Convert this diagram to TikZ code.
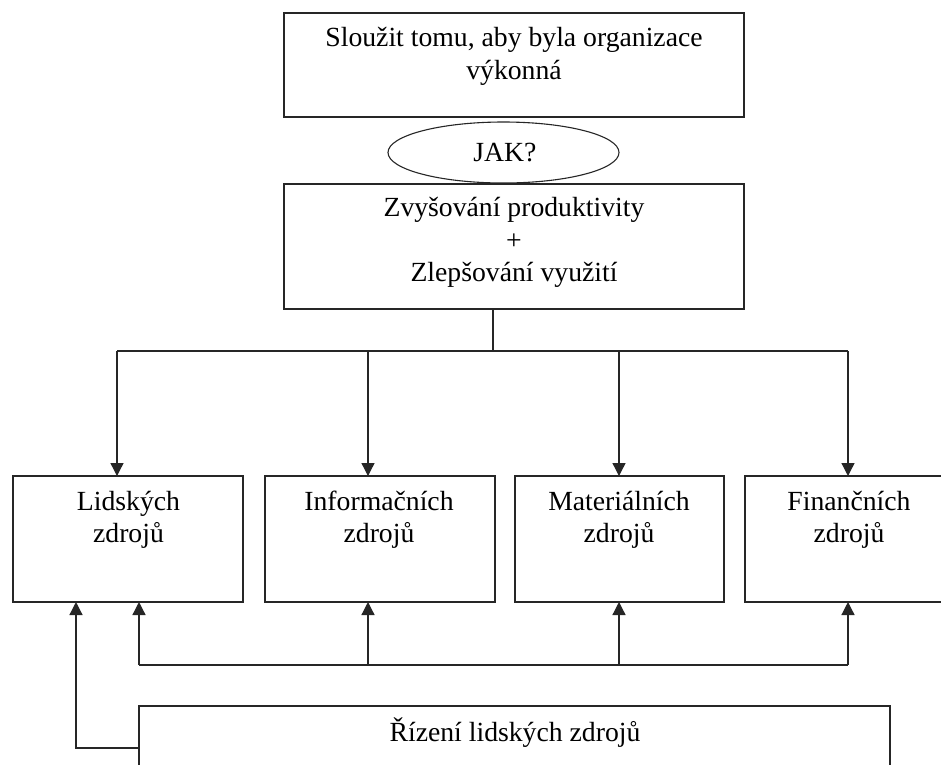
\documentclass[tikz,border=0pt]{standalone}
\usepackage{fontspec}
\setmainfont{Liberation Serif}
\usetikzlibrary{arrows.meta,shapes.geometric}
\tikzset{
  ln/.style={draw=black!85, line width=1.3pt},
  box/.style={ln, rectangle, inner sep=0pt, outer sep=0pt},
  txt/.style={inner sep=0pt, outer sep=0pt, align=center, anchor=north, font=\fontsize{27.7}{32.5}\selectfont},
  arr/.style={ln, -{Triangle[width=13pt,length=13pt]}}
}
\begin{document}
\begin{tikzpicture}[x=1pt,y=-1pt]
\useasboundingbox (0,0) rectangle (941,764);
\clip (0,0) rectangle (941,764);
\fill[white] (0,0) rectangle (941,764);
% boxes
\node[box, minimum width=460pt, minimum height=104pt] (goal) at (514,65) {};
\node[txt] (goalt) at (514,24.2) {\strut Sloužit tomu, aby byla organizace\\výkonná};
\node[draw=black!85, line width=1.1pt, ellipse, fill=white, inner sep=0pt, minimum width=231pt, minimum height=61pt] (jak) at (503.5,152.5) {};
\node[txt] (jakt) at (505,139.2) {\strut JAK?};
\node[box, minimum width=460pt, minimum height=125pt] (how) at (514,246.5) {};
\node[txt] (howt) at (514,194) {\strut Zvyšování produktivity\\+\\Zlepšování využití};
\node[box, minimum width=230pt, minimum height=126pt] (b1) at (128,539) {};
\node[box, minimum width=230pt, minimum height=126pt] (b2) at (380,539) {};
\node[box, minimum width=209pt, minimum height=126pt] (b3) at (619.5,539) {};
\node[box, minimum width=209pt, minimum height=126pt] (b4) at (849.5,539) {};
\node[txt] (b1t) at (128.5,487.5) {\strut Lidských\\zdrojů};
\node[txt] (b2t) at (379,487.5) {\strut Informačních\\zdrojů};
\node[txt] (b3t) at (619,487.5) {\strut Materiálních\\zdrojů};
\node[txt] (b4t) at (849,487.5) {\strut Finančních\\zdrojů};
\node[box, minimum width=751pt, minimum height=100pt] (hrm) at (514.5,756) {};
\node[txt] (hrmt) at (515,717.5) {\strut Řízení lidských zdrojů};
% top bus
\coordinate (split) at (493,351);
\coordinate (t1) at (117,351);
\coordinate (t2) at (368,351);
\coordinate (t3) at (619,351);
\coordinate (t4) at (848,351);
\draw[ln] (how.south -| split) -- (split);
\draw[ln] (t1) -- (t4);
\draw[arr] (t1) -- (t1 |- b1.north);
\draw[arr] (t2) -- (t2 |- b2.north);
\draw[arr] (t3) -- (t3 |- b3.north);
\draw[arr] (t4) -- (t4 |- b4.north);
% bottom bus
\coordinate (u1) at (139,665);
\coordinate (u2) at (368,665);
\coordinate (u3) at (619,665);
\coordinate (u4) at (848,665);
\draw[ln] (u1) -- (u4);
\draw[arr] (u1) -- (u1 |- b1.south);
\draw[arr] (u2) -- (u2 |- b2.south);
\draw[arr] (u3) -- (u3 |- b3.south);
\draw[arr] (u4) -- (u4 |- b4.south);
% loop from HRM to human resources
\coordinate (h1) at (139,748);
\coordinate (h2) at (76,748);
\draw[arr] (hrm.west |- h1) -- (h2) -- (h2 |- b1.south);
\end{tikzpicture}
\end{document}
